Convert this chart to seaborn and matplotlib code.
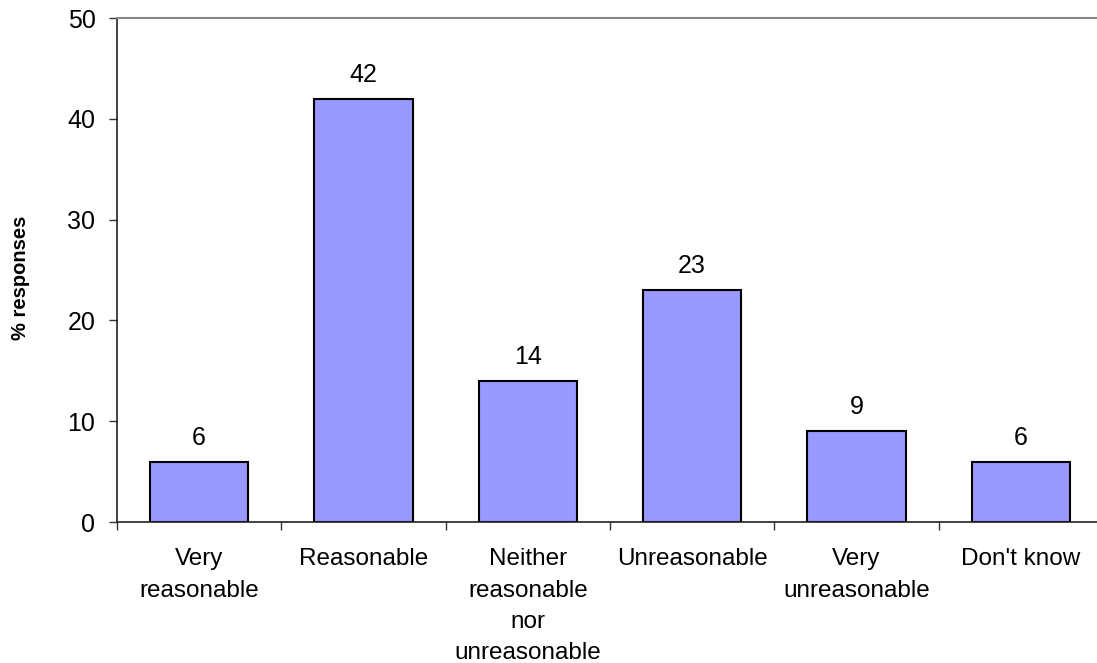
import matplotlib
matplotlib.use("Agg")
import matplotlib.pyplot as plt
import seaborn as sns
import pandas as pd

categories = ["Very\nreasonable", "Reasonable", "Neither\nreasonable\nnor\nunreasonable",
              "Unreasonable", "Very\nunreasonable", "Don't know"]
values = [6, 42, 14, 23, 9, 6]
y_ticks = [0, 10, 20, 30, 40, 50]

sns.set_theme(style="white")
plt.rcParams["font.family"] = ["Liberation Sans", "DejaVu Sans"]
plt.rcParams["text.color"] = "black"
plt.rcParams["xtick.color"] = "black"
plt.rcParams["ytick.color"] = "black"
plt.rcParams["axes.labelcolor"] = "black"

df = pd.DataFrame({"category": categories, "value": values})

fig = plt.figure(figsize=(10.97, 6.63), dpi=100)
W, H = 1097, 663
ax_left, ax_width = 117, 986
ax = fig.add_axes([ax_left / W, 1 - 522 / H, ax_width / W, (522 - 18) / H])

sns.barplot(data=df, x="category", y="value", ax=ax, color="#9999FF",
            saturation=1, width=0.6, edgecolor="black", linewidth=1.5)

ax.set_xlim(-0.5, len(categories) - 0.5)
ax.set_ylim(0, 50)
ax.set_yticks(y_ticks)
ax.set_yticklabels([str(t) for t in y_ticks], fontsize=18)

# category labels sit under each bar; tick marks fall on the boundaries
ax.set_xticks(range(len(categories)))
ax.set_xticklabels(categories, fontsize=17.5, linespacing=1.55, va="top")
ax.tick_params(axis="x", length=0, pad=19)
ax.set_xticks([i + 0.5 for i in range(-1, len(categories))], minor=True)
ax.tick_params(axis="x", which="minor", length=6, width=1, color="#333333", direction="out", bottom=True)
ax.tick_params(axis="y", length=6, width=1, color="#333333", direction="out", left=True, pad=9.5)

for name in ["left", "bottom"]:
    ax.spines[name].set_color("#222222")
    ax.spines[name].set_linewidth(1.2)
ax.spines["right"].set_visible(False)
ax.spines["top"].set_color("#888888")
ax.spines["top"].set_linewidth(1.5)

ax.set_xlabel("")
ax.set_ylabel("% responses", fontsize=14.5, fontweight="bold")
ax.yaxis.set_label_coords((30 - ax_left) / ax_width, 0.484)

for i, v in enumerate(values):
    ax.annotate(str(v), (i, v), xytext=(0, 8.5), textcoords="offset points",
                ha="center", va="bottom", fontsize=18)

fig.savefig("out.png", dpi=100)
